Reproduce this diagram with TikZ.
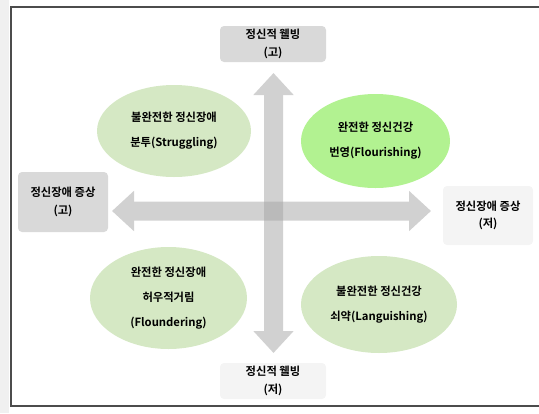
\documentclass[tikz,border=0pt]{standalone}
\usepackage{fontspec}
\usepackage{xcolor}
\usepackage{tikz}
\usetikzlibrary{arrows.meta,positioning,shapes.geometric}
\newfontfamily\kr{Noto Sans CJK KR}[BoldFont={Noto Sans CJK KR Bold}]
\definecolor{boxdark}{HTML}{D9D9D9}
\definecolor{boxlight}{HTML}{F4F4F4}
\definecolor{palegreen}{HTML}{D5E8C4}
\definecolor{brightgreen}{HTML}{B2F291}
\newcommand{\boxf}{\fontsize{11.3}{17.5}\selectfont}
\newcommand{\ellf}{\fontsize{11.3}{25}\selectfont}

\begin{document}
\begin{tikzpicture}[x=1pt, y=-1pt, every node/.style={inner sep=0pt, outer sep=0pt},
  axisbox/.style={rounded corners=4pt, minimum width=106pt, minimum height=36pt, align=center, font=\kr\bfseries\boxf},
  quad/.style={ellipse, minimum width=154pt, minimum height=92pt, align=center, font=\kr\bfseries\ellf},
  axis/.style={draw=black!36, line width=19pt, {Triangle[width=39pt,length=22pt]}-{Triangle[width=39pt,length=22pt]}}]
\useasboundingbox (0,0) rectangle (539,413);
% ---- outer frame
\fill[black!6] (0,0) rectangle (9,413);
\draw[black!70, line width=1.4pt] (545,7) -- (11,7) -- (11,406) -- (545,406);
% ---- axis labels
\node[axisbox, fill=boxdark] (wellhi) at (273,44) {정신적 웰빙\\(고)};
\node[axisbox, fill=boxlight] (welllo) at (273,381) {정신적 웰빙\\(저)};
\node[axisbox, fill=boxdark, minimum width=90pt, minimum height=60pt] (sympthi) at (63,202) {정신장애 증상\\(고)};
\node[axisbox, fill=boxlight, minimum width=90pt, minimum height=59pt] (symptlo) at (488,215.5) {정신장애 증상\\(저)};
% ---- axes
\coordinate (vtop) at (273.5,73);
\coordinate (vbot) at (273.5,353);
\coordinate (hleft) at (112,211);
\coordinate (hright) at (431,211);
\begin{scope}[transparency group, opacity=0.5]
\draw[axis] (vbot) -- (vtop);
\end{scope}
\begin{scope}[transparency group, opacity=0.5]
\draw[axis] (hleft) -- (hright);
\end{scope}
% ---- quadrants
\node[quad, fill=palegreen] (struggle) at (174,131) {불완전한 정신장애\\분투(Struggling)};
\node[quad, fill=brightgreen, minimum width=149pt, minimum height=94pt] (flourish) at (375.5,141) {완전한 정신건강\\번영(Flourishing)};
\node[quad, fill=palegreen, minimum width=157pt, minimum height=102pt] (flounder) at (168.5,298) {완전한 정신장애\\허우적거림\\(Floundering)};
\node[quad, fill=palegreen, minimum width=156pt, minimum height=97pt] (languish) at (379,304.5) {불완전한 정신건강\\쇠약(Languishing)};
\end{tikzpicture}
\end{document}
